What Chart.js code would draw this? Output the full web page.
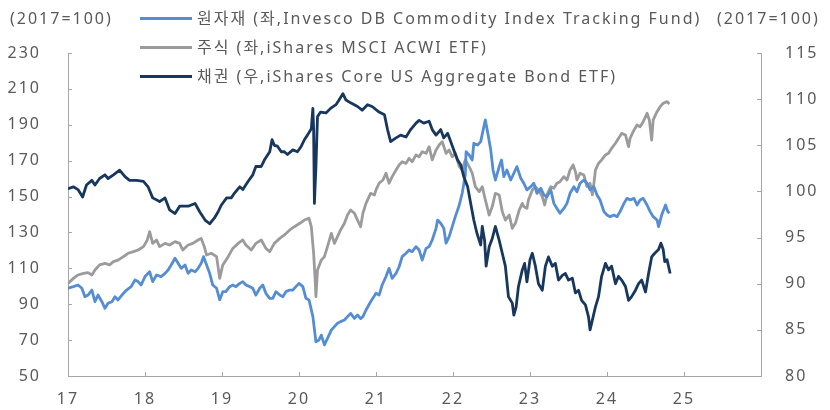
<!DOCTYPE html>
<html>
<head>
<meta charset="utf-8">
<script src="https://cdn.jsdelivr.net/npm/chart.js@4"></script>
<style>
  body { margin: 0; background: #fff; }
  #wrap { position: relative; width: 830px; height: 410px; }
  .txt { position: absolute; font: 16px "Noto Sans", "Noto Sans CJK KR", sans-serif; color: #595959; letter-spacing: 2px; white-space: nowrap; line-height: 20px; }
  .row { position: absolute; left: 140px; height: 20px; display: flex; align-items: center; }
  .row .ln { width: 52px; height: 3px; margin-right: 5px; }
</style>
</head>
<body>
<div id="wrap">
  <canvas id="myChart" width="830" height="410"></canvas>
  <div class="txt" style="left:10px;top:8px">(2017=100)</div>
  <div class="txt" style="left:717px;top:8px">(2017=100)</div>
  <div id="legend"></div>
</div>
<script>
// time axis in fractional years (17.00 = Jan 2017)
const seriesLabels = [
  "원자재 (좌,Invesco DB Commodity Index Tracking Fund)",
  "주식 (좌,iShares MSCI ACWI ETF)",
  "채권 (우,iShares Core US Aggregate Bond ETF)",
];
const seriesColors = ["#548DD4", "#9B9B9B", "#17375E"];
const yearTicks = [17, 18, 19, 20, 21, 22, 23, 24, 25];

const commodityT = [17.00,17.07,17.13,17.18,17.22,17.26,17.31,17.35,17.39,17.44,17.48,17.52,17.57,17.61,17.65,17.70,17.76,17.82,17.87,17.91,17.95,
  18.00,18.06,18.10,18.15,18.21,18.26,18.30,18.34,18.39,18.43,18.47,18.52,18.56,18.60,18.65,18.69,18.73,18.76,18.80,18.84,18.88,18.93,18.97,
  19.01,19.05,19.10,19.14,19.18,19.23,19.27,19.31,19.36,19.40,19.44,19.49,19.53,19.57,19.62,19.66,19.70,19.75,19.79,19.83,19.88,19.92,19.96,
  20.00,20.05,20.09,20.13,20.18,20.22,20.26,20.29,20.33,20.37,20.42,20.46,20.50,20.54,20.59,20.63,20.67,20.72,20.76,20.80,20.83,20.87,20.93,
  21.00,21.04,21.08,21.13,21.17,21.21,21.26,21.30,21.34,21.39,21.43,21.47,21.52,21.56,21.60,21.65,21.69,21.73,21.78,21.80,21.84,21.88,21.91,21.95,21.99,
  22.03,22.08,22.12,22.16,22.17,22.21,22.25,22.27,22.32,22.36,22.40,22.42,22.46,22.49,22.52,22.55,22.60,22.63,22.66,22.70,22.75,22.79,22.83,22.88,22.92,22.96,
  23.01,23.05,23.09,23.14,23.18,23.22,23.27,23.31,23.35,23.39,23.44,23.48,23.52,23.57,23.61,23.65,23.70,23.74,23.78,23.83,23.87,23.91,23.96,
  24.00,24.04,24.09,24.13,24.17,24.22,24.26,24.30,24.35,24.39,24.43,24.47,24.52,24.56,24.60,24.65,24.67,24.71,24.76,24.79,24.81];
const commodityValues = [98.9,99.8,100.7,98.9,94.2,95.1,97.9,91.4,95.1,91.4,87.7,90.5,91.4,94.2,92.4,95.1,97.9,99.8,103.5,102.6,100.7,
  105.4,108.1,102.6,106.3,105.4,107.2,109.1,111.9,115.6,112.8,110.0,111.9,107.2,109.1,108.1,110.0,112.8,116.5,111.9,107.2,100.7,98.9,92.4,
  97.0,97.0,99.8,100.7,99.8,101.6,102.6,100.7,99.8,98.9,95.1,98.9,100.7,96.1,93.3,93.3,97.0,95.1,94.2,97.0,97.9,97.9,99.8,
  101.6,99.8,93.3,92.4,83.1,69.1,70.1,72.8,67.3,71.0,75.6,77.5,79.4,80.3,81.2,83.1,84.9,82.1,84.0,82.0,83.1,86.8,91.4,
  96.1,95.1,100.7,105.4,110.0,104.4,107.2,110.9,116.5,118.4,120.2,119.3,122.1,120.2,114.6,121.1,122.1,125.8,132.3,136.9,135.1,132.3,124.0,127.7,133.2,
  138.8,145.0,152.0,162.0,175.0,173.2,170.4,179.7,178.7,180.6,188.9,192.7,183.4,175.9,164.8,159.2,166.7,170.4,161.1,164.8,159.2,163.0,166.7,160.2,157.4,153.7,
  155.5,157.4,151.8,154.6,150.9,149.9,153.7,146.2,143.4,140.7,143.4,146.2,151.8,155.5,152.7,157.4,159.2,157.4,153.7,155.5,150.9,148.1,141.6,
  139.7,138.8,139.7,138.8,141.6,146.2,149.0,148.1,149.0,145.3,148.1,149.0,145.3,141.6,138.8,136.9,133.2,139.7,145.3,141.6,140.7];

const stockT = [17.00,17.07,17.13,17.20,17.26,17.31,17.35,17.41,17.48,17.54,17.59,17.65,17.72,17.78,17.85,17.91,17.98,
  18.03,18.06,18.10,18.15,18.19,18.26,18.32,18.39,18.45,18.49,18.56,18.62,18.69,18.73,18.77,18.80,18.86,18.93,18.97,
  19.01,19.08,19.14,19.21,19.27,19.31,19.38,19.44,19.51,19.57,19.62,19.68,19.75,19.81,19.88,19.94,
  20.01,20.07,20.13,20.16,20.19,20.21,20.22,20.24,20.29,20.33,20.37,20.42,20.46,20.50,20.54,20.59,20.63,20.67,20.72,20.76,20.80,20.83,20.87,20.93,20.98,
  21.00,21.04,21.09,21.13,21.17,21.21,21.26,21.30,21.34,21.39,21.43,21.47,21.52,21.56,21.60,21.65,21.69,21.73,21.78,21.82,21.86,21.91,21.95,21.99,
  22.03,22.08,22.12,22.16,22.21,22.25,22.29,22.34,22.38,22.42,22.47,22.51,22.55,22.60,22.64,22.68,22.73,22.77,22.81,22.86,22.90,22.92,22.96,22.98,
  23.03,23.07,23.11,23.16,23.19,23.22,23.27,23.31,23.35,23.39,23.44,23.48,23.52,23.56,23.59,23.61,23.65,23.70,23.74,23.78,23.81,23.83,23.85,23.89,23.93,23.98,
  24.02,24.06,24.11,24.15,24.19,24.24,24.28,24.30,24.34,24.39,24.43,24.47,24.52,24.55,24.58,24.60,24.65,24.69,24.73,24.78,24.81];
const stockValues = [101.6,104.4,106.3,107.2,107.6,106.3,109.1,111.9,112.8,111.9,113.7,114.6,116.5,118.4,119.3,120.2,122.1,
  125.8,130.4,123.9,125.8,122.1,123.9,123.0,124.9,123.9,120.2,123.0,123.9,125.8,126.7,122.1,117.4,118.4,116.5,104.4,
  111.9,116.5,121.1,123.9,125.8,123.0,120.2,123.9,125.8,121.1,119.3,123.9,126.7,128.6,131.4,133.2,
  135.1,136.9,137.9,133.2,118.4,103.5,94.2,109.1,114.6,116.5,122.1,129.5,123.9,127.7,131.4,135.1,139.7,142.5,140.7,136.9,133.2,140.7,146.2,151.8,150.9,
  153.7,157.4,159.2,163.0,157.4,161.1,164.8,167.6,169.4,168.5,171.3,169.4,173.2,172.2,175.0,174.1,177.8,170.4,175.9,178.7,180.6,174.1,175.9,172.2,
  174.1,166.7,164.8,170.4,166.7,163.0,155.5,152.7,155.5,148.1,139.7,144.4,151.8,150.9,141.6,136.9,139.7,132.3,135.1,142.5,146.2,144.4,143.4,148.1,
  153.7,155.5,153.7,149.9,145.3,150.9,155.5,154.6,157.4,158.3,161.1,159.2,164.8,167.6,163.9,159.2,163.0,162.0,155.5,157.4,150.9,157.4,164.8,168.5,170.4,173.2,
  174.1,176.9,179.7,182.5,185.2,184.3,177.8,182.5,186.2,189.9,188.9,191.7,196.4,192.7,181.5,192.7,197.3,200.1,202.0,202.9,201.6];

const bondT = [17.00,17.07,17.13,17.19,17.24,17.31,17.35,17.41,17.48,17.52,17.59,17.67,17.74,17.80,17.89,17.98,
  18.04,18.10,18.19,18.26,18.32,18.39,18.45,18.56,18.65,18.71,18.78,18.84,18.90,18.95,18.99,
  19.06,19.12,19.16,19.23,19.27,19.34,19.40,19.44,19.51,19.55,19.62,19.65,19.68,19.72,19.77,19.81,19.85,19.92,19.98,
  20.03,20.07,20.11,20.16,20.18,20.19,20.20,20.22,20.24,20.28,20.35,20.41,20.48,20.52,20.57,20.61,20.67,20.76,20.82,20.89,20.95,
  21.04,21.11,21.15,21.19,21.26,21.32,21.39,21.45,21.52,21.56,21.62,21.69,21.73,21.78,21.84,21.88,21.93,21.97,
  22.01,22.06,22.10,22.14,22.19,22.23,22.27,22.31,22.36,22.38,22.41,22.43,22.47,22.51,22.55,22.60,22.64,22.68,22.72,22.77,22.79,22.82,22.85,22.90,22.93,22.96,
  23.00,23.03,23.07,23.11,23.16,23.20,23.24,23.29,23.33,23.37,23.42,23.46,23.50,23.55,23.59,23.63,23.67,23.72,23.76,23.78,23.80,23.85,23.89,23.93,23.98,
  24.02,24.06,24.11,24.15,24.19,24.24,24.28,24.32,24.37,24.41,24.45,24.50,24.54,24.58,24.62,24.67,24.70,24.73,24.75,24.78,24.82];
const bondValues = [100.3,100.5,100.2,99.4,100.7,101.2,100.7,101.4,101.8,101.4,101.8,102.3,101.6,101.2,101.2,101.1,
  100.5,99.3,98.9,99.3,98.0,97.6,98.4,98.4,98.7,97.8,96.9,96.5,97.1,97.8,98.5,
  99.3,99.3,99.8,100.5,100.2,101.1,101.8,102.7,102.7,103.4,104.3,105.6,105.0,104.9,104.3,104.3,104.0,104.5,104.3,
  104.9,105.6,106.1,106.8,109.0,106.7,98.7,102.7,108.1,108.6,108.5,109.0,109.4,109.9,110.6,109.9,109.6,109.2,108.8,109.4,109.2,
  108.6,108.3,106.7,105.4,105.8,106.1,105.9,106.7,107.4,107.7,107.4,107.6,106.7,106.1,106.7,105.8,106.3,105.4,
  104.5,103.4,102.9,101.6,100.5,98.7,96.9,95.5,94.2,96.2,94.7,91.9,94.0,94.9,96.2,94.7,93.3,91.9,88.6,87.9,86.6,87.5,89.7,91.5,92.2,90.2,
  92.6,93.3,91.9,90.0,89.3,91.9,92.9,91.9,92.2,90.4,90.9,91.1,90.4,90.6,89.0,89.3,88.2,87.7,86.4,85.0,85.7,87.5,88.6,90.8,92.2,
  91.5,91.9,90.0,90.8,90.4,89.7,88.2,88.6,89.3,90.0,90.4,89.1,91.1,92.9,93.3,93.7,94.4,93.7,92.4,92.6,91.1];

const toPoints = (xs, ys) => xs.map((x, i) => ({ x: x, y: ys[i] }));

// legend rows
document.getElementById("legend").innerHTML = seriesLabels
  .map((label, i) => `<div class="row" style="top:${8 + i * 29}px">
      <div class="ln" style="background:${seriesColors[i]}"></div>
      <span class="txt" style="position:static">${label}</span></div>`)
  .join("");

const axisColor = "#A6A6A6";

// canvas letter spacing so the tick labels look like the original
const spacing = {
  id: "spacing",
  beforeUpdate(chart) { chart.ctx.letterSpacing = "2px"; },
  beforeDraw(chart) { chart.ctx.letterSpacing = "2px"; },
};

// short tick marks pointing into the plot
const innerTicks = {
  id: "innerTicks",
  afterDraw(chart) {
    const ctx = chart.ctx;
    const area = chart.chartArea;
    ctx.save();
    ctx.strokeStyle = axisColor;
    ctx.lineWidth = 1;
    ctx.beginPath();
    chart.scales.x.ticks.forEach((t) => {
      const px = Math.round(chart.scales.x.getPixelForValue(t.value)) + 0.5;
      ctx.moveTo(px, area.bottom);
      ctx.lineTo(px, area.bottom - 4);
    });
    chart.scales.y.ticks.forEach((t) => {
      const py = Math.round(chart.scales.y.getPixelForValue(t.value)) + 0.5;
      ctx.moveTo(area.left, py);
      ctx.lineTo(area.left + 4, py);
    });
    chart.scales.y1.ticks.forEach((t) => {
      const py = Math.round(chart.scales.y1.getPixelForValue(t.value)) + 0.5;
      ctx.moveTo(area.right, py);
      ctx.lineTo(area.right - 4, py);
    });
    ctx.stroke();
    ctx.restore();
  },
};

Chart.defaults.font.family = '"Noto Sans", "Noto Sans CJK KR", sans-serif';
Chart.defaults.font.size = 16;
Chart.defaults.color = "#595959";

const ctx = document.getElementById("myChart").getContext("2d");
const myChart = new Chart(ctx, {
  type: "line",
  data: {
    datasets: [
      { label: seriesLabels[0], data: toPoints(commodityT, commodityValues), borderColor: seriesColors[0], yAxisID: "y", order: 1 },
      { label: seriesLabels[1], data: toPoints(stockT, stockValues), borderColor: seriesColors[1], yAxisID: "y", order: 2 },
      { label: seriesLabels[2], data: toPoints(bondT, bondValues), borderColor: seriesColors[2], yAxisID: "y1", order: 0 },
    ],
  },
  options: {
    responsive: false,
    animation: false,
    layout: { padding: { top: 53, left: 0, right: 0, bottom: 0 } },
    elements: {
      point: { radius: 0 },
      line: { borderWidth: 2.8, tension: 0, borderJoinStyle: "round", fill: false },
    },
    plugins: { legend: { display: false }, tooltip: { enabled: false } },
    scales: {
      x: {
        type: "linear",
        min: 17,
        max: 26,
        afterFit: (s) => { s.height = 34; },
        afterBuildTicks: (s) => { s.ticks = yearTicks.concat([26]).map((v) => ({ value: v })); },
        ticks: {
          padding: 6,
          maxRotation: 0,
          callback: (v) => (yearTicks.includes(v) ? String(v) : ""),
        },
        grid: { display: false },
        border: { color: axisColor, width: 1 },
      },
      y: {
        position: "left",
        min: 50,
        max: 230,
        afterFit: (s) => { s.width = 68; },
        ticks: { stepSize: 20, padding: 19 },
        grid: { display: false },
        border: { color: axisColor, width: 1 },
      },
      y1: {
        position: "right",
        min: 80,
        max: 115,
        afterFit: (s) => { s.width = 69; },
        ticks: { stepSize: 5, padding: 16 },
        grid: { display: false },
        border: { color: axisColor, width: 1 },
      },
    },
  },
  plugins: [spacing, innerTicks],
});
</script>
</body>
</html>
